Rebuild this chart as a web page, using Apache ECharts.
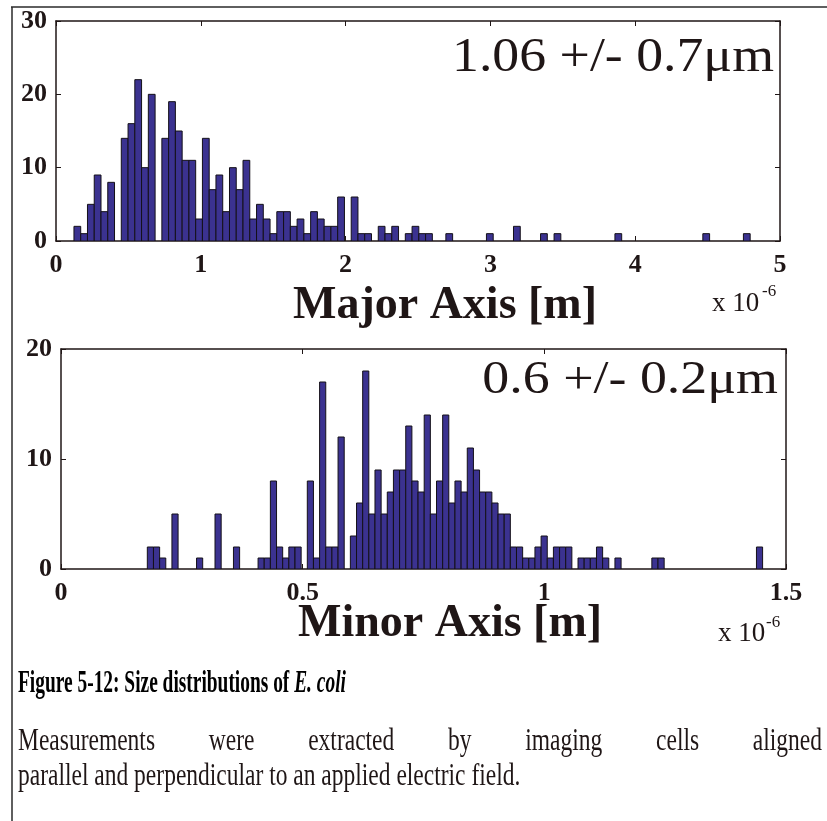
<!DOCTYPE html>
<html>
<head>
<meta charset="utf-8">
<script src="https://cdn.jsdelivr.net/npm/echarts@6/dist/echarts.min.js"></script>
<style>
  html, body { margin: 0; padding: 0; background: #ffffff; }
  #chart { width: 827px; height: 821px; }
</style>
</head>
<body>
<div id="chart"></div>
<script>
// Major-axis length histogram: 100 equal bins, x in units of 1e-6 m
const majorBinStart = 0.124;
const majorBinWidth = 0.0467;
const majorCounts = [
  2, 1, 5, 9, 4, 8, 0, 14, 16, 22,
  10, 20, 0, 14, 19, 15, 11, 11, 3, 14,
  7, 9, 4, 10, 7, 11, 3, 5, 3, 1,
  4, 4, 2, 3, 1, 4, 3, 2, 2, 6,
  0, 6, 1, 1, 0, 2, 1, 2, 0, 1,
  2, 1, 1, 0, 0, 1, 0, 0, 0, 0,
  0, 1, 0, 0, 0, 2, 0, 0, 0, 1,
  0, 1, 0, 0, 0, 0, 0, 0, 0, 0,
  1, 0, 0, 0, 0, 0, 0, 0, 0, 0,
  0, 0, 0, 1, 0, 0, 0, 0, 0, 1
];
const majorXTicks = [0, 1, 2, 3, 4, 5];
const majorYTicks = [0, 10, 20, 30];

// Minor-axis length histogram: 100 equal bins, x in units of 1e-6 m
const minorBinStart = 0.1786;
const minorBinWidth = 0.01273;
const minorCounts = [
  2, 2, 1, 0, 5, 0, 0, 0, 1, 0,
  0, 5, 0, 0, 2, 0, 0, 0, 1, 1,
  8, 2, 1, 2, 2, 0, 8, 1, 17, 2,
  2, 12, 0, 3, 6, 18, 5, 9, 5, 7,
  9, 9, 13, 8, 7, 14, 5, 8, 14, 6,
  8, 7, 11, 9, 7, 7, 6, 5, 5, 2,
  2, 1, 1, 2, 3, 1, 2, 2, 2, 0,
  1, 1, 1, 2, 1, 0, 1, 0, 0, 0,
  0, 0, 1, 1, 0, 0, 0, 0, 0, 0,
  0, 0, 0, 0, 0, 0, 0, 0, 0, 2
];
const minorXTicks = [0, 0.5, 1, 1.5];
const minorYTicks = [0, 10, 20];

// Text drawn on the figure
const majorStat = '1.06 +/- 0.7\u03bcm';
const minorStat = '0.6 +/- 0.2\u03bcm';
const majorTitle = 'Major Axis [m]';
const minorTitle = 'Minor Axis [m]';
const captionMain = 'Figure 5-12: Size distributions of ';
const captionItalic = 'E. coli';
const bodyLine1 = ['Measurements', 'were', 'extracted', 'by', 'imaging', 'cells', 'aligned'];
const bodyLine2 = 'parallel and perpendicular to an applied electric field.';

const serif = '"Liberation Serif", "Times New Roman", serif';
const ink = '#1f1616';
const barFill = '#3b3290';

function binRows(counts, start, width) {
  const rows = [];
  counts.forEach((c, i) => {
    if (c > 0) rows.push([start + i * width, start + (i + 1) * width, c]);
  });
  return rows;
}

function histogram(counts, start, width, axisIndex) {
  return {
    type: 'custom',
    xAxisIndex: axisIndex,
    yAxisIndex: axisIndex,
    data: binRows(counts, start, width),
    encode: { x: [0, 1], y: 2 },
    clip: true,
    renderItem: function (params, api) {
      const base = api.coord([api.value(0), 0]);
      const top = api.coord([api.value(1), api.value(2)]);
      return {
        type: 'rect',
        shape: { x: base[0], y: top[1], width: top[0] - base[0], height: base[1] - top[1] },
        style: { fill: barFill, stroke: '#141018', lineWidth: 1 }
      };
    }
  };
}

const axisLine = { show: true, onZero: false, lineStyle: { color: ink, width: 1.5 } };
const axisTick = { show: true, inside: true, length: 5, lineStyle: { color: ink, width: 1 } };
const tickFont = { fontFamily: serif, fontWeight: 'bold', fontSize: 26, color: ink };

function xAxes(gridIndex, ticks) {
  const lo = ticks[0], hi = ticks[ticks.length - 1], step = ticks[1] - ticks[0];
  return [
    {
      gridIndex, type: 'value', position: 'bottom', min: lo, max: hi, interval: step,
      axisLine, axisTick, splitLine: { show: false },
      axisLabel: Object.assign({ margin: 11 }, tickFont)
    },
    {
      gridIndex, type: 'value', position: 'top', min: lo, max: hi, interval: step,
      axisLine, axisTick, splitLine: { show: false }, axisLabel: { show: false }
    }
  ];
}

function yAxes(gridIndex, ticks) {
  const lo = ticks[0], hi = ticks[ticks.length - 1], step = ticks[1] - ticks[0];
  return [
    {
      gridIndex, type: 'value', position: 'left', min: lo, max: hi, interval: step,
      axisLine, axisTick, splitLine: { show: false },
      axisLabel: Object.assign({ margin: 9 }, tickFont)
    },
    {
      gridIndex, type: 'value', position: 'right', min: lo, max: hi, interval: step,
      axisLine, axisTick, splitLine: { show: false }, axisLabel: { show: false }
    }
  ];
}

function text(x, y, str, font, align, extra) {
  return Object.assign({
    type: 'text', x, y, silent: true,
    style: { text: str, font, fill: ink, textAlign: align || 'left', textVerticalAlign: 'middle' }
  }, extra || {});
}

const bodyFont = '31px ' + serif;
const bodyScale = 0.758;
const bodyLeft = 18;
const bodyRight = 822;

// Justify the first paragraph line across the text column
const measureCtx = document.createElement('canvas').getContext('2d');
measureCtx.font = bodyFont;
const wordWidths = bodyLine1.map(w => measureCtx.measureText(w).width * bodyScale);
const wordGap = (bodyRight - bodyLeft - wordWidths.reduce((a, b) => a + b, 0)) / (bodyLine1.length - 1);

const graphic = [
  { type: 'line', silent: true, shape: { x1: 11, y1: 7, x2: 827, y2: 7 }, style: { stroke: '#2a2a2a', lineWidth: 1.5 } },
  { type: 'line', silent: true, shape: { x1: 12, y1: 7, x2: 12, y2: 821 }, style: { stroke: '#2a2a2a', lineWidth: 1.5 } },

  text(774, 58.5, majorStat, '48px ' + serif, 'right', { scaleX: 1.12 }),
  text(778, 381, minorStat, '47px ' + serif, 'right', { scaleX: 1.146 }),

  text(445, 306, majorTitle, 'bold 46px ' + serif, 'center'),
  text(450, 624, minorTitle, 'bold 46px ' + serif, 'center'),

  text(712, 304, 'x 10', '27px ' + serif, 'left'),
  text(762, 292, '-6', '17px ' + serif, 'left'),
  text(718, 634, 'x 10', '27px ' + serif, 'left'),
  text(766, 623, '-6', '17px ' + serif, 'left'),

  {
    type: 'text', x: 18, y: 684, silent: true, scaleX: 0.626,
    style: {
      text: '{b|' + captionMain + '}{i|' + captionItalic + '}',
      textVerticalAlign: 'middle',
      rich: {
        b: { fontFamily: serif, fontWeight: 'bold', fontSize: 31, color: ink },
        i: { fontFamily: serif, fontWeight: 'bold', fontStyle: 'italic', fontSize: 31, color: ink }
      }
    }
  },

  text(bodyLeft, 777, bodyLine2, bodyFont, 'left', { scaleX: bodyScale })
];
let wordX = bodyLeft;
bodyLine1.forEach((w, i) => {
  graphic.push(text(wordX, 742, w, bodyFont, 'left', { scaleX: bodyScale }));
  wordX += wordWidths[i] + wordGap;
});

const chart = echarts.init(document.getElementById('chart'), null, { renderer: 'canvas' });
chart.setOption({
  backgroundColor: '#ffffff',
  animation: false,
  grid: [
    { left: 56, top: 21, width: 724, height: 220 },
    { left: 61, top: 349, width: 725, height: 220 }
  ],
  xAxis: [...xAxes(0, majorXTicks), ...xAxes(1, minorXTicks)],
  yAxis: [...yAxes(0, majorYTicks), ...yAxes(1, minorYTicks)],
  series: [
    histogram(majorCounts, majorBinStart, majorBinWidth, 0),
    histogram(minorCounts, minorBinStart, minorBinWidth, 2)
  ],
  graphic
});
</script>
</body>
</html>
